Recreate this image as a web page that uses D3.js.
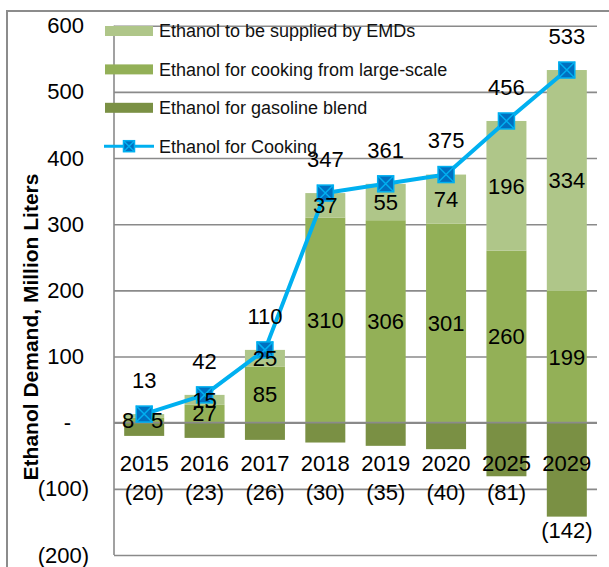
<!DOCTYPE html>
<html>
<head>
<meta charset="utf-8">
<script src="https://cdn.jsdelivr.net/npm/d3@7"></script>
<style>
  body { margin: 0; background: #fff; }
  svg text { font-family: "Liberation Sans", Arial, sans-serif; fill: #000; }
</style>
</head>
<body>
<svg id="chart" width="609" height="567"></svg>
<script>
// data (million liters)
const years = ['2015', '2016', '2017', '2018', '2019', '2020', '2025', '2029'];
const gasolineBlend = [-20, -23, -26, -30, -35, -40, -81, -142];
const cookingLarge = [8, 27, 85, 310, 306, 301, 260, 199];
const emdSupply = [5, 15, 25, 37, 55, 74, 196, 334];
const cookingTotal = [13, 42, 110, 347, 361, 375, 456, 533];
const yTicks = [-200, -100, 0, 100, 200, 300, 400, 500, 600];

const colors = {
  emd: '#afc689',
  large: '#93b057',
  gas: '#7a9044',
  line: '#00b0f0',
  marker: '#0070c0',
  grid: '#8a8a8a'
};

const svg = d3.select('#chart');
const plotLeft = 114, plotRight = 597, plotTop = 25.7, plotBottom = 555;

// outer chart border
svg.append('rect')
  .attr('x', 7).attr('y', 11)
  .attr('width', 640).attr('height', 600)
  .attr('fill', 'none')
  .attr('stroke', '#8c8c8c')
  .attr('stroke-width', 2);

const x = d3.scaleBand()
  .domain(years)
  .range([plotLeft, plotRight])
  .paddingInner(0.3375)
  .paddingOuter(0.3375 / 2);

const y = d3.scaleLinear().domain([-200, 600]).range([plotBottom, plotTop]);

const fmt = v => v === 0 ? '-' : v < 0 ? `(${-v})` : `${v}`;

// gridlines + tick labels
const yAxis = svg.append('g')
  .attr('transform', `translate(${plotLeft},0)`)
  .call(d3.axisLeft(y).tickValues(yTicks).tickSize(-(plotRight - plotLeft)).tickPadding(30).tickFormat(fmt));
yAxis.select('.domain').remove();
yAxis.selectAll('.tick line').attr('stroke', colors.grid).attr('stroke-width', 1.6);
yAxis.selectAll('.tick text')
  .style('font-size', '22px')
  .attr('dx', d => d < 0 ? 5 : d === 0 ? -13 : 0);

svg.append('line')
  .attr('x1', plotLeft).attr('x2', plotLeft)
  .attr('y1', plotTop).attr('y2', plotBottom)
  .attr('stroke', colors.grid).attr('stroke-width', 1.6);

// stacked bars
const rows = years.map((yr, i) => ({
  year: yr, gas: gasolineBlend[i], large: cookingLarge[i], emd: emdSupply[i]
}));
const stack = d3.stack().keys(['gas', 'large', 'emd']).offset(d3.stackOffsetDiverging);
const series = stack(rows);

const barG = svg.append('g');
series.forEach(s => {
  barG.selectAll(null)
    .data(s)
    .join('rect')
    .attr('x', d => x(d.data.year))
    .attr('width', x.bandwidth())
    .attr('y', d => y(Math.max(d[0], d[1])))
    .attr('height', d => Math.abs(y(d[0]) - y(d[1])))
    .attr('fill', colors[s.key]);
});

// redraw zero gridline above the bars
svg.append('line')
  .attr('x1', plotLeft).attr('x2', plotRight)
  .attr('y1', y(0)).attr('y2', y(0))
  .attr('stroke', colors.grid).attr('stroke-width', 1.8);

// year labels
svg.append('g').style('font-size', '22px').attr('text-anchor', 'middle')
  .selectAll('text')
  .data(years)
  .join('text')
  .attr('x', d => x(d) + x.bandwidth() / 2)
  .attr('y', y(0) + 41)
  .attr('dy', '0.35em')
  .text(d => d);

// gasoline blend labels below
svg.append('g').style('font-size', '22px').attr('text-anchor', 'middle')
  .selectAll('text')
  .data(rows)
  .join('text')
  .attr('x', d => x(d.year) + x.bandwidth() / 2)
  .attr('y', d => Math.max(y(-100) + 3, y(d.gas) + 14))
  .attr('dy', '0.35em')
  .text(d => fmt(d.gas));

// cooking line
const pts = years.map((yr, i) => [x(yr) + x.bandwidth() / 2, y(cookingTotal[i])]);
svg.append('path')
  .attr('d', d3.line()(pts))
  .attr('fill', 'none')
  .attr('stroke', colors.line)
  .attr('stroke-width', 4)
  .attr('stroke-linejoin', 'round');

function marker(g, cx, cy, s) {
  const h = s / 2;
  g.append('rect')
    .attr('x', cx - h).attr('y', cy - h)
    .attr('width', s).attr('height', s)
    .attr('fill', colors.marker)
    .attr('stroke', colors.line).attr('stroke-width', 1.5);
  g.append('path')
    .attr('d', `M${cx - h},${cy - h}L${cx + h},${cy + h}M${cx + h},${cy - h}L${cx - h},${cy + h}`)
    .attr('stroke', colors.line).attr('stroke-width', 1.5);
}
const markG = svg.append('g');
pts.forEach(p => marker(markG, p[0], p[1], 16));

svg.append('g').style('font-size', '22px').attr('text-anchor', 'middle')
  .selectAll('text')
  .data(cookingTotal)
  .join('text')
  .attr('x', (d, i) => pts[i][0])
  .attr('y', (d, i) => pts[i][1] - 34)
  .attr('dy', '0.35em')
  .text(d => d);

// segment labels sit on top of the line (tiny 2015 segments nudged sideways like the original)
const isTiny = d => Math.abs(y(d[0]) - y(d[1])) < 6;
const labelG = svg.append('g').style('font-size', '22px').attr('text-anchor', 'middle');
series.filter(s => s.key !== 'gas').forEach(s => {
  labelG.selectAll(null)
    .data(s)
    .join('text')
    .attr('x', d => x(d.data.year) + x.bandwidth() / 2 + (isTiny(d) ? (s.key === 'large' ? -16 : 13) : 0))
    .attr('y', d => isTiny(d) ? y(0) - 2 : y((d[0] + d[1]) / 2))
    .attr('dy', '0.35em')
    .text(d => d[1] - d[0]);
});

// legend
const legendItems = [
  { label: 'Ethanol to be supplied by EMDs', key: 'emd' },
  { label: 'Ethanol for cooking from large-scale', key: 'large' },
  { label: 'Ethanol for gasoline blend', key: 'gas' },
  { label: 'Ethanol for Cooking', key: 'line' }
];
const legend = svg.append('g').attr('transform', 'translate(105,31)');
legendItems.forEach((item, i) => {
  const g = legend.append('g').attr('transform', `translate(0,${i * 38.4})`);
  if (item.key === 'line') {
    g.append('line').attr('x1', -1).attr('x2', 49).attr('y1', 0).attr('y2', 0)
      .attr('stroke', colors.line).attr('stroke-width', 3);
    marker(g, 24, 0, 11);
  } else {
    g.append('rect').attr('x', 0).attr('y', -5).attr('width', 48).attr('height', 10)
      .attr('fill', colors[item.key]);
  }
  g.append('text')
    .attr('x', 54).attr('dy', '0.35em')
    .style('font-size', '18px')
    .style('fill', '#111')
    .text(item.label);
});

// y axis title
svg.append('text')
  .attr('transform', `translate(31,327) rotate(-90)`)
  .attr('text-anchor', 'middle')
  .attr('dy', '0.35em')
  .style('font-size', '21px')
  .style('font-weight', 'bold')
  .text('Ethanol Demand, Million Liters');
</script>
</body>
</html>
